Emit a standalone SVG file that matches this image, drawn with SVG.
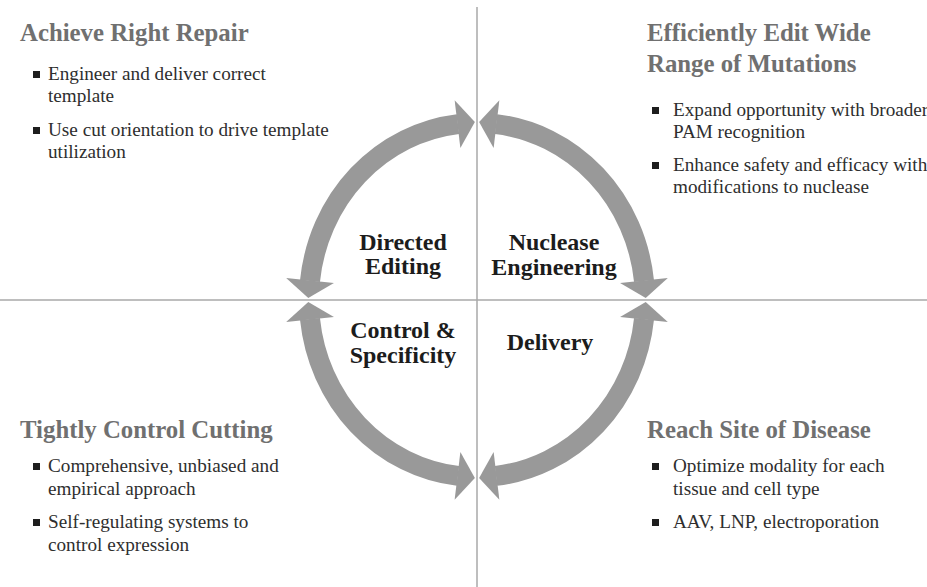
<svg xmlns="http://www.w3.org/2000/svg" width="927" height="587" viewBox="0 0 927 587" font-family="'Liberation Serif', 'DejaVu Serif', serif">
<style>
.title{font-weight:bold;font-size:24.8px;fill:#707070}
.bul{font-size:19.2px;fill:#2e2e2e}
.lab{font-weight:bold;font-size:24px;fill:#1c1c1c;text-anchor:middle}
.sq{fill:#1e1e1e}
.axis{stroke:#a9a9a9;stroke-width:1.5;fill:none}
.arc{stroke:#999999;stroke-width:20;fill:none;marker-start:url(#head);marker-end:url(#head)}
</style>
<defs>
<marker id="head" markerUnits="userSpaceOnUse" markerWidth="19" markerHeight="48" refX="0.5" refY="24" orient="auto-start-reverse" overflow="visible">
<path d="M0,0 L17.5,24 L0,48 Z" fill="#999999"/>
</marker>
</defs>
<rect width="927" height="587" fill="#ffffff"/>
<g id="axes">
<line class="axis" x1="477" y1="7" x2="477" y2="587"/>
<line class="axis" x1="0" y1="300" x2="927" y2="300"/>
</g>
<g id="connectors">
<path class="arc" d="M310,281 A168,177 0 0 1 458,124.1"/>
<path class="arc" d="M496,124.1 A168,177 0 0 1 644,281"/>
<path class="arc" d="M644,319 A168,177 0 0 1 496,475.9"/>
<path class="arc" d="M458,475.9 A168,177 0 0 1 310,319"/>
</g>
<g id="directed-editing">
<text class="lab" x="403" y="250">Directed</text>
<text class="lab" x="403" y="274">Editing</text>
</g>
<g id="nuclease-engineering">
<text class="lab" x="554" y="250">Nuclease</text>
<text class="lab" x="554" y="275">Engineering</text>
</g>
<g id="control-specificity">
<text class="lab" x="403" y="338">Control &amp;</text>
<text class="lab" x="403" y="363">Specificity</text>
</g>
<g id="delivery">
<text class="lab" x="550" y="350">Delivery</text>
</g>
<g id="achieve-right-repair">
<text class="title" x="20" y="41">Achieve Right Repair</text>
<rect class="sq" x="33" y="71" width="7" height="7"/>
<text class="bul" x="48" y="80">Engineer and deliver correct</text>
<text class="bul" x="48" y="102">template</text>
<rect class="sq" x="33" y="127" width="7" height="7"/>
<text class="bul" x="48" y="136">Use cut orientation to drive template</text>
<text class="bul" x="48" y="158">utilization</text>
</g>
<g id="efficiently-edit">
<text class="title" x="647" y="41">Efficiently Edit Wide</text>
<text class="title" x="647" y="72">Range of Mutations</text>
<rect class="sq" x="652" y="107" width="7" height="7"/>
<text class="bul" x="673" y="116">Expand opportunity with broader</text>
<text class="bul" x="673" y="138">PAM recognition</text>
<rect class="sq" x="652" y="162" width="7" height="7"/>
<text class="bul" x="673" y="171">Enhance safety and efficacy with</text>
<text class="bul" x="673" y="193">modifications to nuclease</text>
</g>
<g id="tightly-control">
<text class="title" x="20" y="438">Tightly Control Cutting</text>
<rect class="sq" x="33" y="463" width="7" height="7"/>
<text class="bul" x="48" y="472">Comprehensive, unbiased and</text>
<text class="bul" x="48" y="495">empirical approach</text>
<rect class="sq" x="33" y="519" width="7" height="7"/>
<text class="bul" x="48" y="528">Self-regulating systems to</text>
<text class="bul" x="48" y="551">control expression</text>
</g>
<g id="reach-site">
<text class="title" x="647" y="438">Reach Site of Disease</text>
<rect class="sq" x="652" y="463" width="7" height="7"/>
<text class="bul" x="673" y="472">Optimize modality for each</text>
<text class="bul" x="673" y="495">tissue and cell type</text>
<rect class="sq" x="652" y="519" width="7" height="7"/>
<text class="bul" x="673" y="528">AAV, LNP, electroporation</text>
</g>
</svg>
